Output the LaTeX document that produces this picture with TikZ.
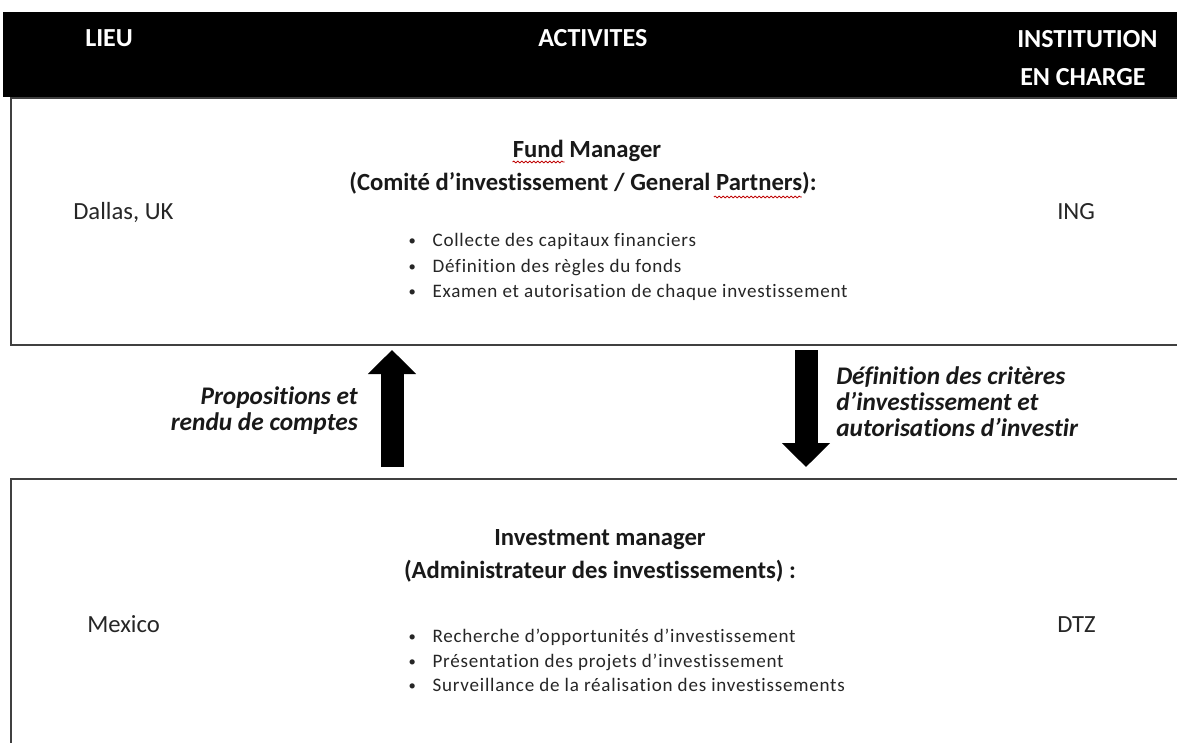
\documentclass[tikz,border=0pt]{standalone}
\usepackage{fontspec}
\setmainfont{Carlito}[RawFeature={-liga;-clig;-calt}]
\usetikzlibrary{arrows.meta,calc,decorations.pathmorphing}
\newcommand{\bdot}{\makebox[19pt][l]{\hspace{1pt}\raisebox{0.5pt}{\fontsize{11}{11}\selectfont •}}}
\begin{document}
\begin{tikzpicture}[x=0.75pt,y=-0.75pt,
  hdr/.style={text=white,font=\fontsize{19.5}{23}\selectfont\bfseries,inner sep=0,anchor=base west},
  body/.style={font=\fontsize{18.5}{22}\selectfont,inner sep=0,text=black!85,anchor=base west},
  ttl/.style={font=\fontsize{18.5}{22}\selectfont\bfseries,inner sep=0,text=black!90,anchor=base},
  bul/.style={font=\fontsize{14.3}{17}\selectfont\addfontfeature{LetterSpace=4},inner sep=0,anchor=base west,text=black!85},
  lbl/.style={font=\fontsize{19}{23}\selectfont\bfseries\itshape,inner sep=0,text=black!90},
  frame/.style={draw=black!75,line width=1.5pt,anchor=north west},
  blockarrow/.style={line width=17.25pt,-{Triangle[width=35.25pt,length=18pt]}},
  squig/.style={draw=red!75!black,line width=0.6pt,decorate,decoration={snake,amplitude=0.7pt,segment length=3pt}}
]
\clip (0,0) rectangle (1177,742);
\fill[white] (0,0) rectangle (1177,742);
% boxes
\node[frame,minimum width=892.5pt,minimum height=185.25pt] (topbox) at (10,97) {};
\node[frame,minimum width=892.5pt,minimum height=225pt] (botbox) at (10,478) {};
\node[fill=black,anchor=north west,inner sep=0,minimum width=900pt,minimum height=63.75pt] (header) at (3,12) {};
% header texts
\node[hdr] (lieu) at (85,47) {LIEU};
\node[hdr] (activ) at (538,47) {ACTIVITES};
\node[hdr] (inst1) at (1017,48) {INSTITUTION};
\node[hdr] (inst2) at (1020,85) {EN CHARGE};
% top box
\node[body] (dallas) at (73,219) {Dallas, UK};
\node[body] (ing) at (1057,219) {ING};
\node[ttl] (fm) at (587,157) {Fund Manager};
\node[ttl] (cg) at (583,190) {(Comité d’investissement / General Partners):};
\node[bul] (b1) at (407,246) {\bdot Collecte des capitaux financiers};
\node[bul] (b2) at (407,272) {\bdot Définition des règles du fonds};
\node[bul] (b3) at (407,297) {\bdot Examen et autorisation de chaque investissement};
\draw[squig] ($(fm.base west)+(0,5)$) -- ++(52,0);
\draw[squig] ($(cg.base east)+(-103,7)$) -- ++(88,0);
% bottom box
\node[body] (mex) at (87,632) {Mexico};
\node[body] (dtz) at (1057,632) {DTZ};
\node[ttl] (im) at (600,545) {Investment manager};
\node[ttl] (adm) at (600,578) {(Administrateur des investissements) :};
\node[bul] (c1) at (407,642) {\bdot Recherche d’opportunités d’investissement};
\node[bul] (c2) at (407,667) {\bdot Présentation des projets d’investissement};
\node[bul] (c3) at (407,691) {\bdot Surveillance de la réalisation des investissements};
% arrows
\coordinate (upx) at (392,0);
\coordinate (dnx) at (806,0);
\draw[blockarrow] ($(botbox.north -| upx)+(0,-11)$) -- ($(topbox.south -| upx)+(0,4)$);
\draw[blockarrow] ($(topbox.south -| dnx)+(0,4)$) -- ($(botbox.north -| dnx)+(0,-11)$);
% arrow labels
\node[lbl,anchor=base east] (pr1) at (358,404) {Propositions et};
\node[lbl,anchor=base east] (pr2) at (358,430) {rendu de comptes};
\node[lbl,anchor=base west] (df1) at (836,384) {Définition des critères};
\node[lbl,anchor=base west] (df2) at (836,410) {d’investissement et};
\node[lbl,anchor=base west] (df3) at (836,436) {autorisations d’investir};
\end{tikzpicture}
\end{document}
